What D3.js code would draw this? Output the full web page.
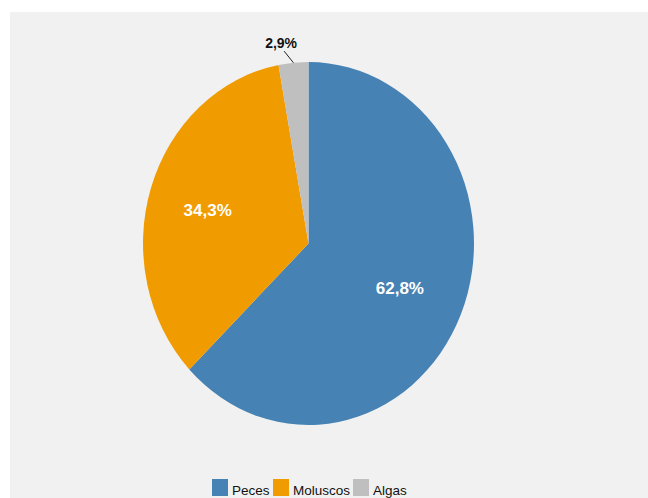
<!DOCTYPE html>
<html>
<head>
<meta charset="utf-8">
<script src="https://cdn.jsdelivr.net/npm/d3@7"></script>
<style>
  body { margin: 0; background: #fff; }
  svg text { font-family: "Liberation Sans", Arial, sans-serif; }
</style>
</head>
<body>
<div id="chart"></div>
<script>
const categories = ["Peces", "Moluscos", "Algas"];
const values = [62.8, 34.3, 2.9];
const colors = ["#4682b4", "#f09b00", "#bfbfbf"];

const W = 648, H = 498;
const svg = d3.select("#chart").append("svg")
    .attr("width", W)
    .attr("height", H);

// panel background
svg.append("rect")
    .attr("x", 10).attr("y", 12)
    .attr("width", W - 10).attr("height", H - 12)
    .attr("fill", "#f1f1f1");

const cx = 308.5, cy = 243.5, rx = 165.5, ry = 181.5;
const data = categories.map((c, i) => ({cat: c, value: values[i]}));

const pie = d3.pie().sort(null).value(d => d.value);
const arcs = pie(data);
const arc = d3.arc().innerRadius(0).outerRadius(rx);

const g = svg.append("g")
    .attr("transform", `translate(${cx},${cy}) scale(1,${ry / rx})`);

g.selectAll("path")
    .data(arcs)
    .enter()
    .append("path")
    .attr("d", arc)
    .attr("fill", (d, i) => colors[i]);

const fmt = v => d3.format(".1f")(v).replace(".", ",") + "%";
const pos = (a, f) => [cx + rx * f * Math.sin(a), cy - ry * f * Math.cos(a)];

// inside labels
const labelR = [0.6, 0.64];
arcs.slice(0, 2).forEach((d, i) => {
    const mid = (d.startAngle + d.endAngle) / 2;
    const [x, y] = pos(mid, labelR[i]);
    svg.append("text")
        .attr("x", x).attr("y", y + 2)
        .attr("text-anchor", "middle")
        .attr("dy", "0.35em")
        .attr("fill", "#fff")
        .attr("font-weight", "bold")
        .attr("font-size", 17)
        .text(fmt(d.data.value));
});

// small slice label outside with leader
const last = arcs[2];
const midL = (last.startAngle + last.endAngle) / 2;
const p0 = pos(midL, 1.0);
const p1 = pos(midL - 0.047, 1.07);
svg.append("line")
    .attr("x1", p0[0]).attr("y1", p0[1])
    .attr("x2", p1[0]).attr("y2", p1[1])
    .attr("stroke", "#222").attr("stroke-width", 1);
svg.append("text")
    .attr("x", p1[0] - 3).attr("y", p1[1] - 3)
    .attr("text-anchor", "middle")
    .attr("fill", "#111")
    .attr("font-weight", "bold")
    .attr("font-size", 14)
    .text(fmt(last.data.value));

// legend
const legendX = [212, 273, 353];
const legend = svg.append("g");
categories.forEach((c, i) => {
    legend.append("rect")
        .attr("x", legendX[i]).attr("y", 479)
        .attr("width", 16).attr("height", 17)
        .attr("fill", colors[i]);
    legend.append("text")
        .attr("x", legendX[i] + 20).attr("y", 495)
        .attr("font-size", 13.5)
        .attr("fill", "#111")
        .text(c);
});
</script>
</body>
</html>
